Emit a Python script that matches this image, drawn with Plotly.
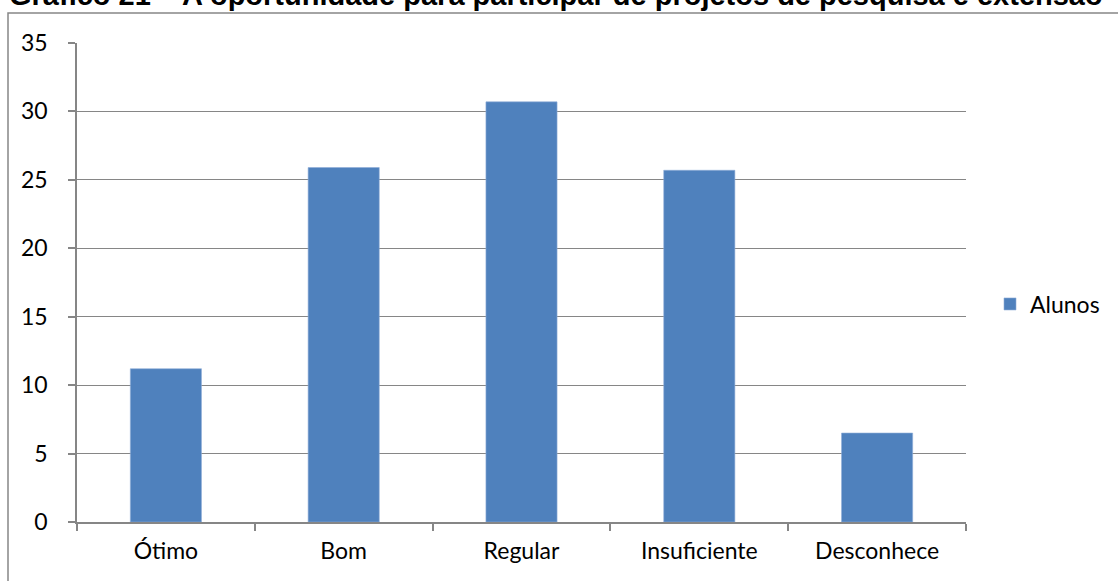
import plotly.graph_objects as go

categories = ["Ótimo", "Bom", "Regular", "Insuficiente", "Desconhece"]
alunos = [11.2, 25.9, 30.7, 25.7, 6.5]
y_ticks = [0, 5, 10, 15, 20, 25, 30, 35]
title_text = "Gráfico 21 – A oportunidade para participar de projetos de pesquisa e extensão"

W, H = 1118, 581
L, R, T, B = 77, 152, 43, 59
pw, ph = W - L - R, H - T - B

def px_x(x):
    return (x - L) / pw

def px_y(y):
    return (H - B - y) / ph

grey = "#868686"
font_fam = "Lato, 'Open Sans', 'DejaVu Sans', sans-serif"

fig = go.Figure()
fig.add_trace(go.Bar(
    x=categories, y=alunos, name="Alunos",
    marker=dict(color="#4F81BD", line=dict(color="#8EADD6", width=0.6)),
    width=0.4,
))

fig.update_layout(
    width=W, height=H,
    margin=dict(l=L, r=R, t=T, b=B, pad=0),
    paper_bgcolor="white", plot_bgcolor="white",
    showlegend=True,
    legend=dict(x=px_x(990), y=px_y(304), xanchor="left", yanchor="middle",
                font=dict(family=font_fam, size=23, color="black"),
                bgcolor="rgba(0,0,0,0)", itemwidth=30),
    xaxis=dict(
        showline=True, linecolor=grey, linewidth=1.5,
        ticks="outside", ticklen=7, tickcolor=grey, tickwidth=1.5,
        tickson="boundaries", showgrid=False,
        tickfont=dict(family=font_fam, size=23, color="black"),
        ticklabelstandoff=8,
    ),
    yaxis=dict(
        range=[0, 35], tickvals=y_ticks,
        showline=True, linecolor=grey, linewidth=1.5,
        ticks="outside", ticklen=7, tickcolor=grey, tickwidth=1.5,
        showgrid=True, gridcolor=grey, gridwidth=1.3,
        zeroline=False,
        tickfont=dict(family=font_fam, size=23, color="black"),
        ticklabelstandoff=16,
    ),
    annotations=[dict(text="<b>" + title_text + "</b>", xref="paper", yref="paper",
                      x=px_x(556), y=px_y(-5), xanchor="center", yanchor="middle",
                      showarrow=False,
                      font=dict(family="'Liberation Sans', Arial, sans-serif", size=29, color="black"))],
    shapes=[dict(type="rect", xref="paper", yref="paper",
                 x0=px_x(8), x1=px_x(W + 5), y0=px_y(H + 5), y1=px_y(13),
                 line=dict(color=grey, width=1.5), fillcolor="rgba(0,0,0,0)", layer="below")],
)

fig.write_html("out.html", config={"displayModeBar": False},
               post_script="document.body.style.margin='0';")
